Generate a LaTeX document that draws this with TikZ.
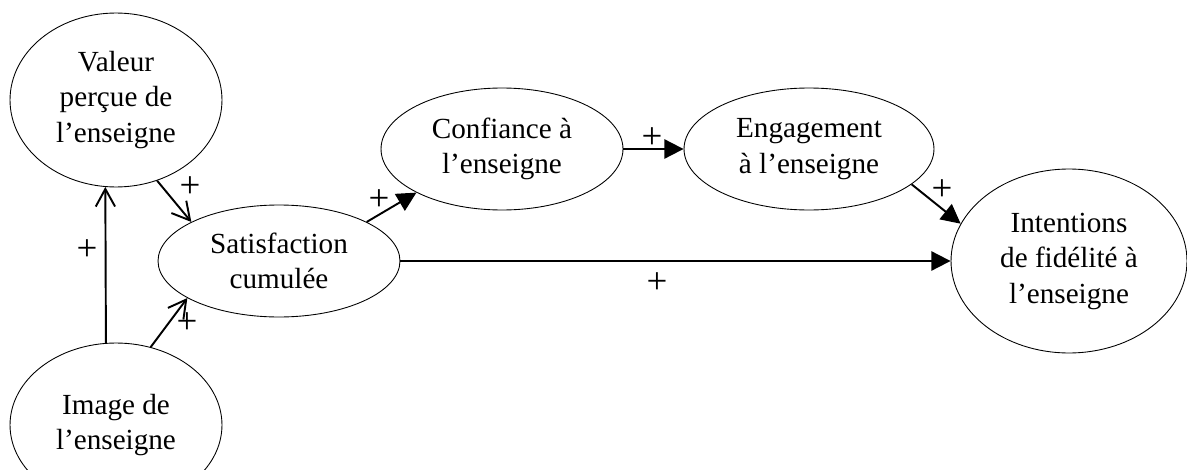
\documentclass[tikz,border=0pt]{standalone}
\usepackage{fontspec}
\setmainfont{Liberation Serif}
\usetikzlibrary{shapes.geometric,arrows.meta}

\tikzset{
    construct/.style={draw, ellipse, line width=0.5pt, inner sep=0pt, align=center,
        font=\fontsize{16.6}{20.2}\selectfont},
    openarrow/.style={line width=1.1pt, -{Straight Barb[length=10pt,width=11pt]}},
    fullarrow/.style={line width=1.1pt, -{Triangle[length=11pt,width=11pt]}},
    sign/.style={inner sep=0pt, font=\fontsize{21}{24}\selectfont}
}

\begin{document}
\begin{tikzpicture}[x=0.02cm, y=-0.02cm]
    \useasboundingbox (0,0) rectangle (1187,470);
    % constructs
    \node[construct, minimum width=4.24cm, minimum height=3.48cm] (valeur) at (116,100) {Valeur\\perçue de\\l’enseigne};
    \node[construct, minimum width=4.24cm, minimum height=3.28cm] (image) at (116,425) {Image de\\l’enseigne};
    \node[construct, minimum width=4.84cm, minimum height=2.24cm] (satis) at (279,261) {Satisfaction\\cumulée};
    \node[construct, minimum width=4.84cm, minimum height=2.44cm] (confiance) at (502,149) {Confiance à\\l’enseigne};
    \node[construct, minimum width=5cm, minimum height=2.44cm] (engagement) at (809,149) {Engagement\\à l’enseigne};
    \node[construct, minimum width=4.72cm, minimum height=3.68cm] (intentions) at (1069,261) {Intentions\\de fidélité à\\l’enseigne};
    % links
    \draw[openarrow] (image.97) -- (valeur.263);
    \draw[openarrow] (valeur.297) -- (satis.156);
    \draw[openarrow] (image.66) -- (satis.202);
    \draw[fullarrow] (satis.24) -- (confiance.207);
    \draw[fullarrow] (confiance.east) -- (engagement.west);
    \draw[fullarrow] (engagement.341) -- (intentions.161);
    \draw[fullarrow] (satis.east) -- (intentions.west);
    % signs
    \node[sign] (s1) at (87,250) {+};
    \node[sign] (s2) at (190,187) {+};
    \node[sign] (s3) at (187,323) {+};
    \node[sign] (s4) at (379,200) {+};
    \node[sign] (s5) at (652,138) {+};
    \node[sign] (s6) at (942,190) {+};
    \node[sign] (s7) at (657,283) {+};
\end{tikzpicture}
\end{document}
